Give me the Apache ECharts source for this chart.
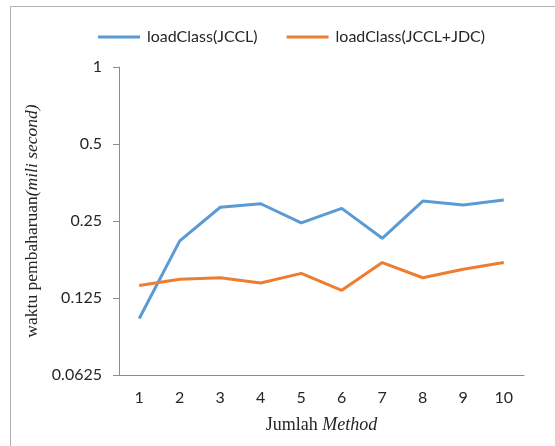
<!DOCTYPE html>
<html>
<head>
<meta charset="utf-8">
<script src="https://cdn.jsdelivr.net/npm/echarts@6/dist/echarts.min.js"></script>
<style>html,body{margin:0;padding:0;background:#fff}#c{width:555px;height:446px}</style>
</head>
<body>
<div id="c"></div>
<script>
const categories = ['1','2','3','4','5','6','7','8','9','10'];
const jccl = [0.104, 0.209, 0.283, 0.292, 0.246, 0.280, 0.214, 0.299, 0.289, 0.302];
const jcclJdc = [0.140, 0.148, 0.150, 0.143, 0.156, 0.134, 0.172, 0.150, 0.162, 0.172];
const yTicks = [0.0625, 0.125, 0.25, 0.5, 1];
const seriesNames = ['loadClass(JCCL)', 'loadClass(JCCL+JDC)'];

const chart = echarts.init(document.getElementById('c'), null, {renderer: 'canvas'});
const labelFont = 'Lato';
chart.setOption({
  animation: false,
  backgroundColor: '#fff',
  graphic: [{
    type: 'rect', shape: {x: 10.5, y: 6.5, width: 600, height: 500},
    style: {fill: 'none', stroke: '#b0b0b0', lineWidth: 1}, silent: true
  }],
  legend: {
    left: 98, top: 29, padding: 0,
    itemWidth: 42, itemHeight: 3, itemGap: 29,
    icon: 'rect',
    textStyle: {fontFamily: labelFont, fontSize: 16, color: '#262626', padding: [0,0,0,2]},
    data: seriesNames
  },
  grid: {left: 119, right: 31, top: 67, bottom: 71, containLabel: false},
  xAxis: {
    type: 'category', data: categories, boundaryGap: true,
    axisLine: {lineStyle: {color: '#8c8c8c', width: 1}},
    axisTick: {show: false},
    axisLabel: {fontFamily: labelFont, fontSize: 16, color: '#262626', margin: 15},
    name: '{a|Jumlah }{b|Method}', nameLocation: 'middle', nameGap: 41,
    nameTextStyle: {
      rich: {
        a: {fontFamily: 'Liberation Serif', fontSize: 18, color: '#262626'},
        b: {fontFamily: 'Liberation Serif', fontSize: 18, fontStyle: 'italic', color: '#262626'}
      }
    }
  },
  yAxis: {
    type: 'log', logBase: 2, min: yTicks[0], max: yTicks[yTicks.length-1],
    axisLine: {show: true, lineStyle: {color: '#8c8c8c', width: 1}},
    axisTick: {show: true, length: 6, lineStyle: {color: '#8c8c8c'}},
    splitLine: {show: false},
    axisLabel: {
      fontFamily: labelFont, fontSize: 16, color: '#262626', margin: 17,
      formatter: function (v) {
        let best = yTicks[0];
        yTicks.forEach(t => { if (Math.abs(Math.log2(t) - Math.log2(v)) < Math.abs(Math.log2(best) - Math.log2(v))) best = t; });
        return String(best);
      }
    },
    name: '{a|waktu pembaharuan}{b|(mili second)}', nameLocation: 'middle', nameGap: 76, nameRotate: 90,
    nameTextStyle: {
      rich: {
        a: {fontFamily: 'Liberation Serif', fontSize: 17.5, color: '#262626'},
        b: {fontFamily: 'Liberation Serif', fontSize: 17.5, fontStyle: 'italic', color: '#262626'}
      }
    }
  },
  series: [
    {name: seriesNames[0], type: 'line', data: jccl, showSymbol: false, symbol: 'none',
     lineStyle: {color: '#5B9BD5', width: 3}, itemStyle: {color: '#5B9BD5'}},
    {name: seriesNames[1], type: 'line', data: jcclJdc, showSymbol: false, symbol: 'none',
     lineStyle: {color: '#ED7D31', width: 3}, itemStyle: {color: '#ED7D31'}}
  ]
});
</script>
</body>
</html>
